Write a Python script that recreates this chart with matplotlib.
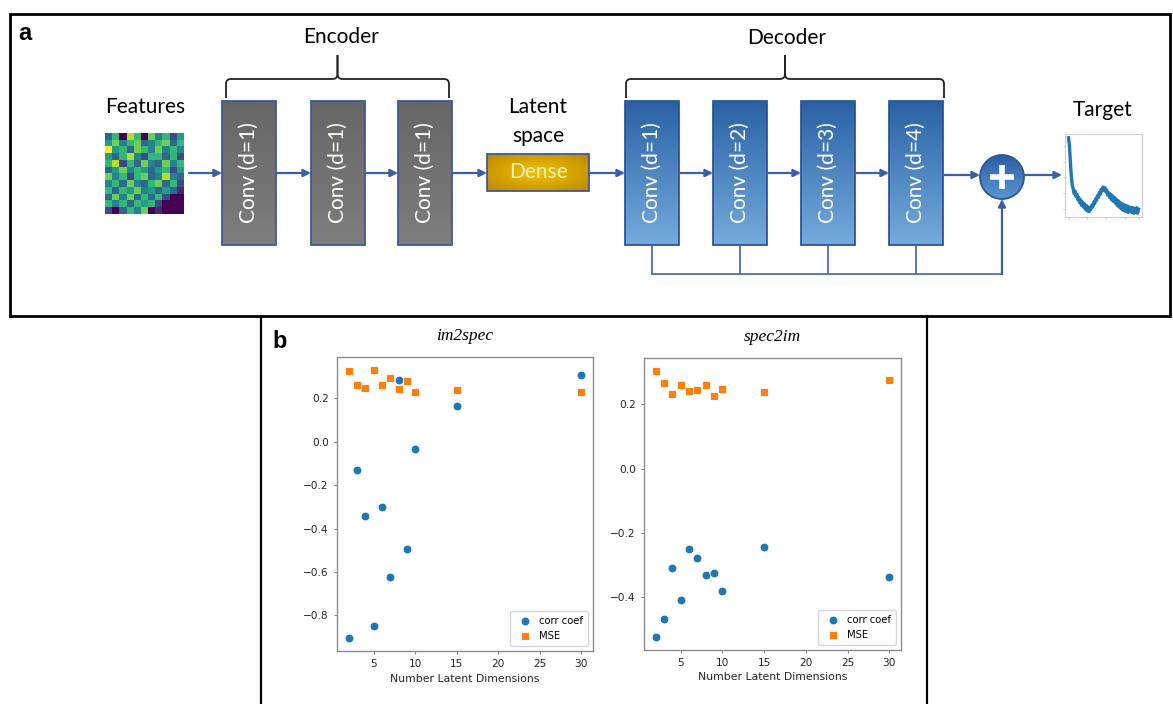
from pathlib import Path
import numpy as np
import matplotlib
matplotlib.use("Agg")
import matplotlib.pyplot as plt
from matplotlib.patches import Rectangle, Circle, PathPatch
from matplotlib.path import Path as MPath

# =========================
# Data
# =========================

latent_dims = [2, 3, 4, 5, 6, 7, 8, 9, 10, 15, 30]

im2spec_corr = [-0.903, -0.128, -0.343, -0.850, -0.303, -0.623, 0.286, -0.496, -0.034, 0.167, 0.308]
im2spec_mse = [0.326, 0.263, 0.249, 0.329, 0.263, 0.294, 0.244, 0.280, 0.230, 0.240, 0.229]

spec2im_corr = [-0.524, -0.470, -0.310, -0.411, -0.251, -0.280, -0.331, -0.324, -0.382, -0.246, -0.337]
spec2im_mse = [0.303, 0.268, 0.231, 0.260, 0.241, 0.246, 0.260, 0.227, 0.249, 0.237, 0.275]

# little feature map shown at the input (viridis)
feature_map = [
    [3, 6, 0, 8, 6, 0, 7, 4, 6, 2, 5],
    [5, 7, 4, 6, 7, 3, 4, 6, 7, 3, 6],
    [9, 5, 6, 3, 7, 6, 4, 7, 4, 6, 4],
    [5, 3, 6, 8, 4, 2, 6, 6, 3, 6, 2],
    [6, 8, 2, 6, 3, 7, 4, 3, 7, 4, 6],
    [3, 5, 7, 4, 6, 5, 3, 5, 6, 2, 5],
    [7, 4, 6, 2, 6, 7, 3, 4, 8, 4, 3],
    [4, 6, 3, 7, 4, 3, 6, 7, 3, 6, 2],
    [6, 3, 6, 5, 7, 4, 5, 3, 5, 3, 1],
    [3, 7, 4, 7, 3, 6, 3, 6, 2, 0, 0],
    [6, 4, 6, 3, 6, 5, 6, 2, 0, 0, 0],
    [2, 0, 3, 6, 4, 7, 0, 1, 0, 0, 0],
]

# target spectrum shown at the output (noisy)
target_spectrum = [
    1.00, 0.90, 0.70, 0.52, 0.40, 0.36, 0.30, 0.33, 0.26, 0.29,
    0.22, 0.25, 0.18, 0.22, 0.15, 0.19, 0.13, 0.17, 0.10, 0.15,
    0.08, 0.13, 0.07, 0.12, 0.10, 0.15, 0.13, 0.19, 0.17, 0.23,
    0.21, 0.27, 0.25, 0.31, 0.29, 0.35, 0.33, 0.38, 0.34, 0.37,
    0.32, 0.34, 0.28, 0.31, 0.25, 0.29, 0.22, 0.27, 0.20, 0.25,
    0.18, 0.23, 0.15, 0.21, 0.13, 0.19, 0.11, 0.17, 0.09, 0.16,
    0.08, 0.15, 0.07, 0.14, 0.06, 0.13, 0.07, 0.12, 0.06, 0.12,
    0.05, 0.11, 0.06, 0.12, 0.05, 0.10,
]

encoder_labels = ["Conv (d=1)", "Conv (d=1)", "Conv (d=1)"]
decoder_labels = ["Conv (d=1)", "Conv (d=2)", "Conv (d=3)", "Conv (d=4)"]

# =========================
# Figure
# =========================

W, H = 1173, 704
fig = plt.figure(figsize=(W / 100, H / 100), dpi=100)

DIAG_FONT = ["Lato", "DejaVu Sans"]
ARROW_C = "#3b5fa3"
LAB_FS = 15

# full-figure axes in pixel units for the diagram
dg = fig.add_axes([0, 0, 1, 1])
dg.set_axis_off()


def hex2rgb(c):
    return np.array(matplotlib.colors.to_rgb(c))


def grad_box(x0, y0, w, h, c_top, c_bot, edge):
    t = np.linspace(0, 1, 64)[:, None, None]
    img = hex2rgb(c_top) * (1 - t) + hex2rgb(c_bot) * t
    dg.imshow(img, extent=(x0, x0 + w, y0 + h, y0), aspect="auto", zorder=2)
    dg.add_patch(Rectangle((x0, y0), w, h, fill=False, ec=edge, lw=1.3, zorder=3))


def arrow(x0, y0, x1, y1):
    dg.annotate("", xy=(x1, y1), xytext=(x0, y0),
                arrowprops=dict(arrowstyle="-|>", color=ARROW_C, lw=1.6,
                                mutation_scale=11, shrinkA=0, shrinkB=0),
                zorder=4)


def brace(x0, x1, y_ends, y_bar, y_tip):
    xm = (x0 + x1) / 2
    r = 5
    for a, s in [(x0, 1), (x1, -1)]:
        verts = [(a, y_ends), (a, y_bar + r), (a, y_bar), (a + s * r, y_bar),
                 (xm - s * r, y_bar), (xm, y_bar), (xm, y_bar - r), (xm, y_tip)]
        codes = [MPath.MOVETO, MPath.LINETO, MPath.CURVE3, MPath.CURVE3,
                 MPath.LINETO, MPath.CURVE3, MPath.CURVE3, MPath.LINETO]
        dg.add_patch(PathPatch(MPath(verts, codes), fill=False, ec="#222222", lw=1.3, zorder=3))


# panel frames
dg.add_patch(Rectangle((10, 14), 1160, 302, fill=False, ec="black", lw=2, zorder=1))
dg.plot([261, 261], [316, 704], color="black", lw=1.6)
dg.plot([927, 927], [316, 704], color="black", lw=1.6)
dg.text(18, 33, "a", fontsize=17, fontweight="bold", family="Liberation Sans", va="center")
dg.text(272, 341, "b", fontsize=17, fontweight="bold", family="Liberation Sans", va="center")

# labels
dg.text(145, 107, "Features", fontsize=LAB_FS, family=DIAG_FONT, ha="center", va="center")
dg.text(341, 37, "Encoder", fontsize=LAB_FS, family=DIAG_FONT, ha="center", va="center")
dg.text(538, 107, "Latent", fontsize=LAB_FS, family=DIAG_FONT, ha="center", va="center")
dg.text(538, 136, "space", fontsize=LAB_FS, family=DIAG_FONT, ha="center", va="center")
dg.text(787, 38, "Decoder", fontsize=LAB_FS, family=DIAG_FONT, ha="center", va="center")
dg.text(1103, 110, "Target", fontsize=LAB_FS, family=DIAG_FONT, ha="center", va="center")

brace(226, 449, 98, 79, 55)
brace(626, 944, 98, 79, 55)

ymid = 173
box_w, box_y, box_h = 54, 101, 144

# encoder
enc_x = [222, 311, 398]
for x, lab in zip(enc_x, encoder_labels):
    grad_box(x, box_y, box_w, box_h, "#666666", "#7e7e7e", "#3d5a99")
    dg.text(x + box_w / 2, box_y + box_h / 2, lab, rotation=90, color="white",
            fontsize=LAB_FS, family=DIAG_FONT, ha="center", va="center", zorder=5)
arrow(189, ymid, 222, ymid)
arrow(276, ymid, 311, ymid)
arrow(365, ymid, 398, ymid)
arrow(452, ymid, 487, ymid)

# dense block with radial gold shading
u, v = np.meshgrid(np.linspace(-1, 1, 80), np.linspace(-1, 1, 40))
rr = np.clip(np.sqrt(u ** 2 + v ** 2) / 1.3, 0, 1)[:, :, None]
gold = hex2rgb("#f2c200") * (1 - rr) + hex2rgb("#c08c00") * rr
dg.imshow(gold, extent=(487, 589, 191, 154), aspect="auto", zorder=2)
dg.add_patch(Rectangle((487, 154), 102, 37, fill=False, ec="#3d5a99", lw=1.3, zorder=3))
dg.text(538, 172.5, "Dense", color="#fff3b8", fontsize=LAB_FS, family=DIAG_FONT,
        ha="center", va="center", zorder=5)
arrow(589, ymid, 625, ymid)

# decoder
dec_x = [625, 713, 801, 889]
for x, lab in zip(dec_x, decoder_labels):
    grad_box(x, box_y, box_w, box_h, "#2b62a6", "#74aadc", "#2f5597")
    dg.text(x + box_w / 2, box_y + box_h / 2, lab, rotation=90, color="white",
            fontsize=LAB_FS, family=DIAG_FONT, ha="center", va="center", zorder=5)
for a, b in zip(dec_x[:-1], dec_x[1:]):
    arrow(a + box_w, ymid, b, ymid)

# sum node
cx, cy, cr = 1002, 177, 22
t = np.linspace(0, 1, 64)[:, None, None]
cimg = hex2rgb("#2a5fa3") * (1 - t) + hex2rgb("#5b95d2") * t
im = dg.imshow(cimg, extent=(cx - cr, cx + cr, cy + cr, cy - cr), aspect="auto", zorder=2)
circ = Circle((cx, cy), cr, fill=False, ec="#2f5597", lw=1.3, zorder=3)
dg.add_patch(circ)
im.set_clip_path(circ)
dg.plot([cx - 12, cx + 12], [cy, cy], color="white", lw=4, solid_capstyle="butt", zorder=5)
dg.plot([cx, cx], [cy - 12, cy + 12], color="white", lw=4, solid_capstyle="butt", zorder=5)
arrow(943, 175, cx - cr, 175)
arrow(cx + cr, 175, 1062, 175)

# skip connections
skip_y = 274
for x in dec_x:
    dg.plot([x + box_w / 2] * 2, [box_y + box_h, skip_y], color="#4a72b8", lw=1.3, zorder=1)
dg.plot([dec_x[0] + box_w / 2, cx], [skip_y, skip_y], color="#4a72b8", lw=1.3, zorder=1)
arrow(cx, skip_y, cx, cy + cr)

dg.set_xlim(0, W)
dg.set_ylim(H, 0)

# feature map image
fa = fig.add_axes([105 / W, 1 - 214 / H, 78 / W, 81 / H])
fa.imshow(np.array(feature_map), cmap="viridis", aspect="auto", interpolation="nearest")
fa.set_axis_off()

# target spectrum thumbnail
ta = fig.add_axes([1065 / W, 1 - 217 / H, 77 / W, 83 / H])
ta.plot(range(len(target_spectrum)), target_spectrum, color="#1f77b4", lw=2.4)
ta.set_xticks([0, 20, 40, 60, 75])
ta.set_yticks([0.1, 0.3, 0.5, 0.7, 0.9])
ta.tick_params(length=1.5, color="#cccccc", labelbottom=False, labelleft=False)
for s in ta.spines.values():
    s.set_color("#d0d0d0")
    s.set_linewidth(0.8)

# =========================
# Panel b scatter plots
# =========================

panels = [
    ([337 / W, 1 - 651 / H, 256 / W, 294 / H], "im2spec", im2spec_corr, im2spec_mse),
    ([644 / W, 1 - 650 / H, 257 / W, 292 / H], "spec2im", spec2im_corr, spec2im_mse),
]

for rect, title, corr, mse in panels:
    ax = fig.add_axes(rect)
    ax.scatter(latent_dims, corr, s=40, marker="o", color="#1f77b4",
               edgecolor="white", linewidth=0.6, label="corr coef", zorder=3)
    ax.scatter(latent_dims, mse, s=40, marker="s", color="#ff7f0e",
               edgecolor="white", linewidth=0.6, label="MSE", zorder=3)
    ax.set_title(title, fontsize=12.5, family="Liberation Serif", style="italic", pad=12)
    ax.set_xlabel("Number Latent Dimensions", fontsize=7.8, color="#262626", labelpad=3)
    ax.tick_params(labelsize=7.6, length=2.5, colors="#262626", color="#888888")
    for s in ax.spines.values():
        s.set_color("#8c8c8c")
        s.set_linewidth(1.0)
    ax.legend(loc="lower right", fontsize=7.2, handletextpad=0.4, borderpad=0.5)

plt.savefig("out.png", dpi=100)
plt.close()
